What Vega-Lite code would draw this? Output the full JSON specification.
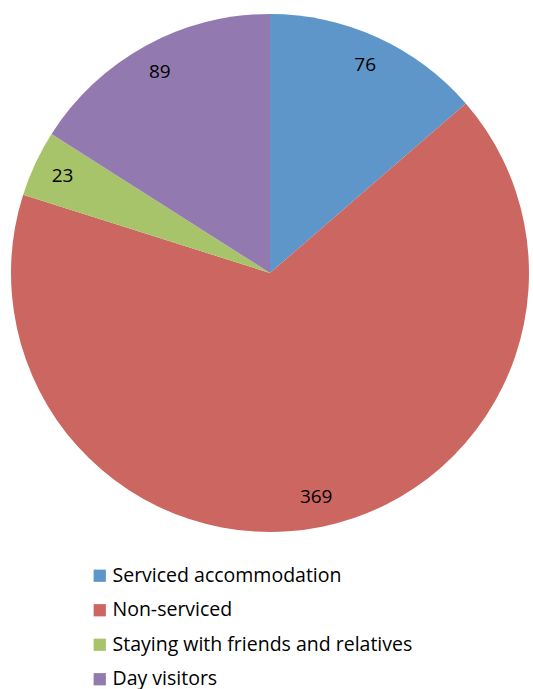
{
  "$schema": "https://vega.github.io/schema/vega-lite/v6.json",
  "width": 540,
  "height": 546,
  "padding": {"left": 0, "top": 0, "right": 0, "bottom": 143},
  "autosize": "none",
  "background": "white",
  "config": {"view": {"stroke": null}, "font": "Open Sans"},
  "data": {
    "values": [
      {"category": "Serviced accommodation", "value": 76, "order": 1},
      {"category": "Non-serviced", "value": 369, "order": 2},
      {"category": "Staying with friends and relatives", "value": 23, "order": 3},
      {"category": "Day visitors", "value": 89, "order": 4}
    ]
  },
  "encoding": {
    "theta": {"field": "value", "type": "quantitative", "stack": true},
    "order": {"field": "order", "type": "quantitative"},
    "color": {
      "field": "category",
      "type": "nominal",
      "sort": ["Serviced accommodation", "Non-serviced", "Staying with friends and relatives", "Day visitors"],
      "scale": {
        "domain": ["Serviced accommodation", "Non-serviced", "Staying with friends and relatives", "Day visitors"],
        "range": ["#5F96C9", "#CC6660", "#A8C46A", "#9279B0"]
      },
      "legend": {
        "title": null,
        "orient": "none",
        "legendX": 90,
        "legendY": 566,
        "symbolType": "square",
        "symbolSize": 150,
        "symbolStrokeWidth": 0,
        "labelFontSize": 19.5,
        "labelFont": "Open Sans",
        "labelColor": "#000000",
        "labelOffset": 3,
        "rowPadding": 13.5,
        "labelLimit": 500
      }
    }
  },
  "layer": [
    {"mark": {"type": "arc", "radius": 259, "stroke": null}},
    {
      "mark": {"type": "text", "radius": 229, "fontSize": 19, "font": "Open Sans", "color": "#000000"},
      "encoding": {"text": {"field": "value", "type": "quantitative"}, "color": {"value": "#000000"}}
    }
  ]
}
